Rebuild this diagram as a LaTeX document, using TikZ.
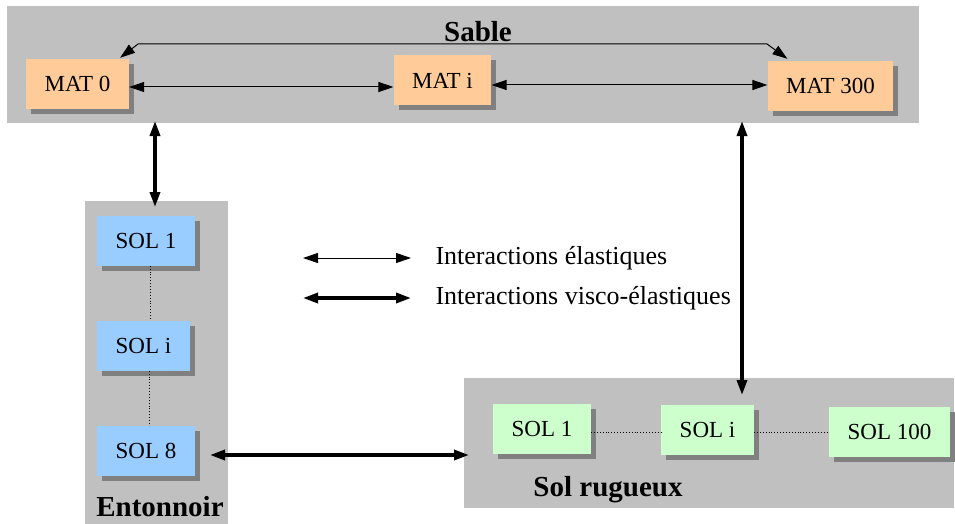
\documentclass[tikz,border=0pt]{standalone}
\usepackage{fontspec}
\setmainfont{Liberation Serif}
\usetikzlibrary{arrows.meta,shadows}

\definecolor{fondgris}{HTML}{C0C0C0}
\definecolor{ombre}{HTML}{808080}
\definecolor{orangemat}{HTML}{FFCC99}
\definecolor{bleusol}{HTML}{99CCFF}
\definecolor{vertsol}{HTML}{CCFFCC}

\tikzset{
	groupe/.style={rectangle,fill=fondgris,inner sep=0pt},
	titre/.style={font=\fontsize{29}{32}\selectfont\bfseries},
	boite/.style={rectangle,inner xsep=18.5pt,minimum height=50pt,
		font=\fontsize{23}{26}\selectfont,
		drop shadow={shadow xshift=5pt,shadow yshift=-5pt,fill=ombre,opacity=1}},
	mat/.style={boite,fill=orangemat},
	solbleu/.style={boite,fill=bleusol},
	solvert/.style={boite,fill=vertsol},
	fin/.style={line width=1pt,{Triangle[length=15pt,width=10pt]}-{Triangle[length=15pt,width=10pt]}},
	epais/.style={line width=3.3pt,{Triangle[length=15pt,width=10pt]}-{Triangle[length=15pt,width=10pt]}},
	pointille/.style={line width=0.9pt,dotted},
	legende/.style={anchor=west,font=\fontsize{26}{30}\selectfont},
}

\begin{document}
\begin{tikzpicture}[x=1pt,y=-1pt]
	\useasboundingbox (0,0) rectangle (955,524);

	% les trois blocs gris
	\node (sable) at(463,64.5) [groupe,minimum width=912pt,minimum height=117pt] {};
	\node (entonnoir) at(156.5,362.5) [groupe,minimum width=143pt,minimum height=323pt] {};
	\node (rugueux) at(709,443) [groupe,minimum width=490pt,minimum height=130pt] {};

	\node (titre sable) at(478,32) [titre] {Sable};
	\node (titre entonnoir) at(160,507) [titre] {Entonnoir};
	\node (titre rugueux) at(608,490) [titre] {Sol rugueux};

	% le sable
	\node (mat 0) at(77.5,84) [mat] {MAT 0};
	\node (mat i) at(442.5,80.5) [mat] {MAT i};
	\node (mat 300) at(830.5,86) [mat] {MAT 300};

	% l'entonnoir
	\node (sol e1) at(146,240.5) [solbleu] {SOL 1};
	\node (sol ei) at(143.5,345.5) [solbleu] {SOL i};
	\node (sol e8) at(146,451) [solbleu] {SOL 8};

	% le sol rugueux
	\node (sol r1) at(542,428.5) [solvert] {SOL 1};
	\node (sol ri) at(707.5,430) [solvert] {SOL i};
	\node (sol r100) at(889.5,431.5) [solvert] {SOL 100};

	% points de passage
	\coordinate (coude 1) at(138,44);
	\coordinate (coude 2) at(767,44);
	\coordinate (haut 1) at(155,121);
	\coordinate (bas 1) at(155,207);
	\coordinate (haut 2) at(742,121);
	\coordinate (bas 2) at(742,395);
	\coordinate (gauche 3) at(210,455);
	\coordinate (droite 3) at(469,455);
	\coordinate (leg a) at(303,258);
	\coordinate (leg b) at(411,258);
	\coordinate (leg c) at(303,298);
	\coordinate (leg d) at(411,298);

	% interactions elastiques
	\draw[fin] (mat 0.east |- 0,87) -- (mat i.west |- 0,87);
	\draw[fin] (mat i.east |- 0,85) -- (mat 300.west |- 0,85);
	\draw[fin] ([xshift=-9pt,yshift=1pt]mat 0.north east) -- (coude 1) -- (coude 2) -- ([xshift=20pt,yshift=2pt]mat 300.north west);

	% interactions visco-elastiques
	\draw[epais] (haut 1) -- (bas 1);
	\draw[epais] (haut 2) -- (bas 2);
	\draw[epais] (gauche 3) -- (droite 3);

	% pointilles
	\draw[pointille] (sol e1.south -| 150,0) -- (sol ei.north -| 150,0);
	\draw[pointille] (sol ei.south -| 149,0) -- (sol e8.north -| 149,0);
	\draw[pointille] (sol r1.east |- 0,432) -- (sol ri.west |- 0,432);
	\draw[pointille] (sol ri.east |- 0,432) -- (sol r100.west |- 0,432);

	% legende
	\draw[fin] (leg a) -- (leg b);
	\draw[epais] (leg c) -- (leg d);
	\node (texte fin) at(432,258) [legende] {Interactions élastiques};
	\node (texte epais) at(432,298) [legende] {Interactions visco-élastiques};
\end{tikzpicture}
\end{document}
